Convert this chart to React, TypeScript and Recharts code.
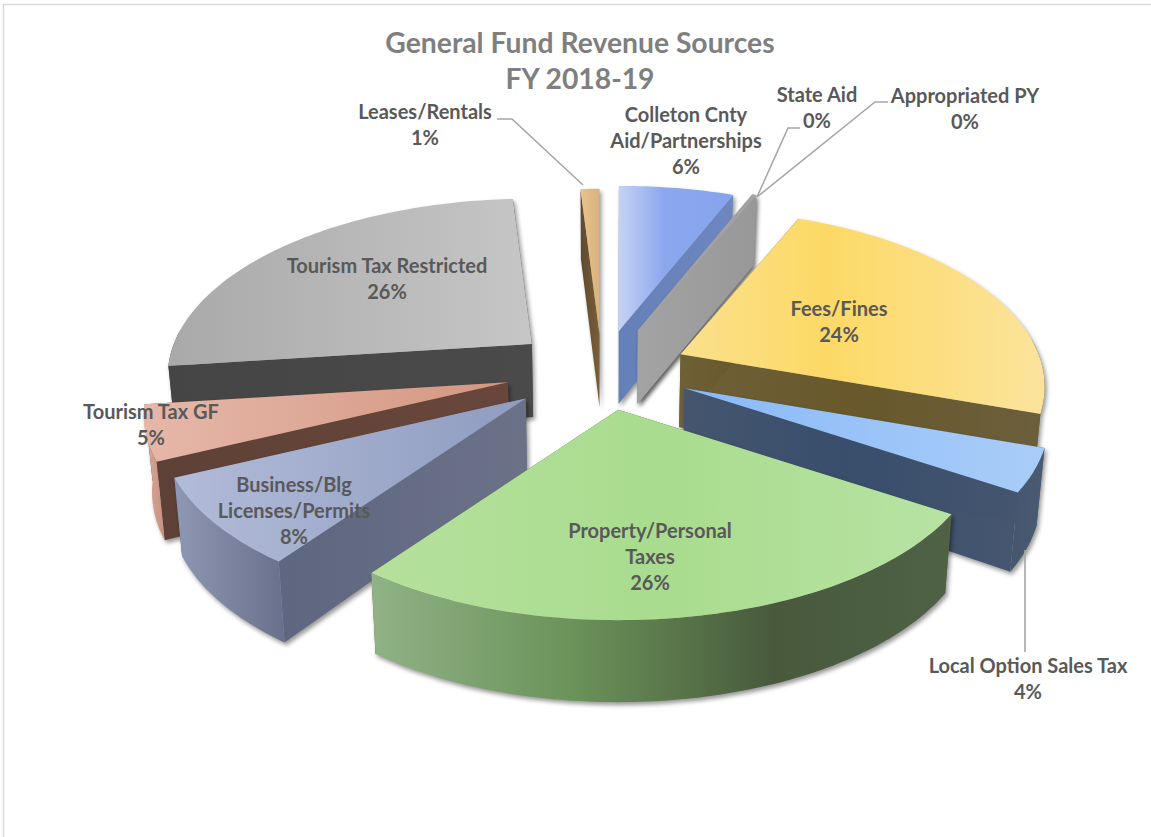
import { Pie, PieChart } from 'recharts'

// slices clockwise from 12 o'clock
const names = [
  'Colleton Cnty Aid/Partnerships',
  'State Aid',
  'Appropriated PY',
  'Fees/Fines',
  'Local Option Sales Tax',
  'Property/Personal Taxes',
  'Business/Blg Licenses/Permits',
  'Tourism Tax GF',
  'Tourism Tax Restricted',
  'Leases/Rentals',
]
const shares = [6.1, 0.1, 0.1, 24, 3.9, 25.8, 8, 5, 26, 1]
const data = names.map((name, i) => ({ name, value: shares[i] }))

// back to front, 3d slices have to be painted in this order
const paintOrder = [
  'Tourism Tax Restricted',
  'Leases/Rentals',
  'Colleton Cnty Aid/Partnerships',
  'State Aid',
  'Appropriated PY',
  'Fees/Fines',
  'Local Option Sales Tax',
  'Tourism Tax GF',
  'Business/Blg Licenses/Permits',
  'Property/Personal Taxes',
]

const CX = 602
const CY = 370
const RADIUS = 358
const TILT = 0.48
const PERSPECTIVE = 0.183
const EXPLODE_TILT = 0.45
const TAPER = 0.982

const explode: Record<string, number> = {
  'Colleton Cnty Aid/Partnerships': 88,
  'State Aid': 95,
  'Appropriated PY': 95,
  'Fees/Fines': 86,
  'Local Option Sales Tax': 92,
  'Property/Personal Taxes': 90,
  'Business/Blg Licenses/Permits': 99,
  'Tourism Tax GF': 98,
  'Tourism Tax Restricted': 91,
  'Leases/Rentals': 80,
}

type Stops = [number, string][]
interface Look { top: Stops; side: Stops; arc: Stops }

const looks: Record<string, Look> = {
  'Colleton Cnty Aid/Partnerships': {
    top: [[0, '#c5d2f4'], [0.4, '#8ba7ee'], [1, '#86a3ee']],
    side: [[0, '#6580b8'], [1, '#6f86bf']],
    arc: [[0, '#6f86bf'], [1, '#6f86bf']],
  },
  'State Aid': {
    top: [[0, '#a5a5a5'], [1, '#a5a5a5']],
    side: [[0, '#a3a3a3'], [1, '#989898']],
    arc: [[0, '#a0a0a0'], [1, '#a0a0a0']],
  },
  'Appropriated PY': {
    top: [[0, '#a5a5a5'], [1, '#a5a5a5']],
    side: [[0, '#a3a3a3'], [1, '#989898']],
    arc: [[0, '#a0a0a0'], [1, '#a0a0a0']],
  },
  'Fees/Fines': {
    top: [[0, '#fbe08e'], [0.4, '#fcd966'], [1, '#fbe39c']],
    side: [[0, '#6e6038'], [0.5, '#68582b'], [1, '#6b5f3c']],
    arc: [[0, '#6b5f3c'], [1, '#6b5f3c']],
  },
  'Local Option Sales Tax': {
    top: [[0, '#8ab9f8'], [1, '#a9cdf8']],
    side: [[0, '#45566e'], [0.45, '#384e6c'], [1, '#46566f']],
    arc: [[0, '#46566f'], [1, '#4a5a72']],
  },
  'Property/Personal Taxes': {
    top: [[0, '#b5e09d'], [0.5, '#a9dc8e'], [1, '#b7e3a3']],
    side: [[0, '#4b5d41'], [1, '#4b5d41']],
    arc: [[0, '#90b286'], [0.35, '#6a9259'], [0.7, '#48593c'], [1, '#4f6245']],
  },
  'Business/Blg Licenses/Permits': {
    top: [[0, '#b2bbd8'], [1, '#8f9cc0']],
    side: [[0, '#5e6680'], [1, '#6b7288']],
    arc: [[0, '#8f98b3'], [1, '#69708c']],
  },
  'Tourism Tax GF': {
    top: [[0, '#e6b7a9'], [1, '#d39781']],
    side: [[0, '#5e4136'], [1, '#69463b']],
    arc: [[0, '#d9ab9d'], [1, '#c8907f']],
  },
  'Tourism Tax Restricted': {
    top: [[0, '#a9a9a9'], [1, '#c6c6c6']],
    side: [[0, '#454545'], [1, '#4a4a4a']],
    arc: [[0, '#454545'], [1, '#454545']],
  },
  'Leases/Rentals': {
    top: [[0, '#e8c48f'], [1, '#d9b27c']],
    side: [[0, '#5e4a30'], [1, '#7a5f38']],
    arc: [[0, '#7a5f38'], [1, '#7a5f38']],
  },
}

const labelLines: Record<string, string[]> = {
  'Colleton Cnty Aid/Partnerships': ['Colleton Cnty', 'Aid/Partnerships'],
  'Property/Personal Taxes': ['Property/Personal', 'Taxes'],
  'Business/Blg Licenses/Permits': ['Business/Blg', 'Licenses/Permits'],
}

const labelSpots: Record<string, [number, number]> = {
  'Colleton Cnty Aid/Partnerships': [686, 122],
  'State Aid': [817, 102],
  'Appropriated PY': [965, 103],
  'Fees/Fines': [839, 316],
  'Local Option Sales Tax': [1028, 673],
  'Property/Personal Taxes': [650, 538],
  'Business/Blg Licenses/Permits': [294, 492],
  'Tourism Tax GF': [151, 419],
  'Tourism Tax Restricted': [387, 273],
  'Leases/Rentals': [425, 119],
}

const leaders: Record<string, string> = {
  'State Aid': '800,128 788,128 757,197',
  'Appropriated PY': '888,102 875,102 757,197',
  'Local Option Sales Tax': '1025,550 1025,652',
  'Leases/Rentals': '497,119 512,119 583,185',
}

const FONT = 'Lato, Carlito, sans-serif'

const rad = (d: number) => (d * Math.PI) / 180

// pie plane angle (clockwise from 12 o'clock) to screen offset from the slice apex
function project(theta: number, r: number) {
  const u = Math.sin(rad(theta))
  const v = -Math.cos(rad(theta))
  const s = 1 / (1 - PERSPECTIVE * v)
  return { x: u * r * s, y: v * r * TILT * s, v }
}

const rimDepth = (v: number) => 76 + 6 * v

function drop(x: number, y: number, depth: number): [number, number] {
  return [CX + (x - CX) * TAPER, y + depth]
}

const pathOf = (pts: [number, number][]) =>
  'M' + pts.map(p => `${p[0].toFixed(1)},${p[1].toFixed(1)}`).join('L') + 'Z'

function Gradient({ id, stops }: { id: string; stops: Stops }) {
  return (
    <linearGradient id={id} x1="0" y1="0" x2="1" y2="0">
      {stops.map(([o, c]) => (
        <stop key={o} offset={o} stopColor={c} />
      ))}
    </linearGradient>
  )
}

function Slice3D(props: any, only: string) {
  const { name, startAngle, endAngle, midAngle, outerRadius, cx, cy } = props
  if (name !== only) return <g />
  const a = 90 - startAngle
  const b = 90 - endAngle
  const mid = 90 - midAngle
  const e = explode[name]
  const ax = cx + e * Math.sin(rad(mid))
  const ay = cy - e * Math.cos(rad(mid)) * EXPLODE_TILT
  const apexDepth = 73
  const at = (t: number) => {
    const p = project(t, outerRadius)
    return { x: ax + p.x, y: ay + p.y, v: p.v }
  }
  const wall = (t: number): [number, number][] => {
    const p = at(t)
    return [[ax, ay], [p.x, p.y], drop(p.x, p.y, rimDepth(p.v)), drop(ax, ay, apexDepth)]
  }
  const rim: [number, number][] = []
  const steps = Math.max(2, Math.ceil(b - a))
  for (let i = 0; i <= steps; i++) {
    const p = at(a + ((b - a) * i) / steps)
    rim.push([p.x, p.y])
  }
  // only the part of the outer wall that faces us
  const f0 = Math.max(a, 85)
  const f1 = Math.min(b, 275)
  const front: [number, number][] = []
  const frontLow: [number, number][] = []
  if (f1 > f0) {
    const n = Math.ceil(f1 - f0)
    for (let i = 0; i <= n; i++) {
      const p = at(f0 + ((f1 - f0) * i) / n)
      front.push([p.x, p.y])
      frontLow.unshift(drop(p.x, p.y, rimDepth(p.v)))
    }
  }
  const id = `s${names.indexOf(name)}`
  const look = looks[name]
  return (
    <g style={{ filter: 'drop-shadow(2px 3px 2px rgba(0,0,0,0.4))' }}>
      <defs>
        <Gradient id={`${id}t`} stops={look.top} />
        <Gradient id={`${id}s`} stops={look.side} />
        <Gradient id={`${id}a`} stops={look.arc} />
      </defs>
      <path d={pathOf(wall(b))} fill={`url(#${id}s)`} />
      <path d={pathOf(wall(a))} fill={`url(#${id}s)`} />
      {front.length > 0 && <path d={pathOf([...front, ...frontLow])} fill={`url(#${id}a)`} />}
      <path d={pathOf([[ax, ay], ...rim])} fill={`url(#${id}t)`} />
    </g>
  )
}

function renderLabel(props: any) {
  const { name, percent } = props
  const [x, y] = labelSpots[name]
  const lines = [...(labelLines[name] ?? [name]), `${Math.round(percent * 100)}%`]
  return (
    <g key={name}>
      {leaders[name] && <polyline points={leaders[name]} fill="none" stroke="#a6a6a6" strokeWidth={1.6} />}
      {lines.map((line, i) => (
        <text
          key={i}
          x={x}
          y={y + i * 26}
          textAnchor="middle"
          fontFamily={FONT}
          fontWeight={700}
          fontSize={20}
          fill="#595959"
        >
          {line}
        </text>
      ))}
    </g>
  )
}

export default function App() {
  return (
    <div style={{ position: 'absolute', left: 0, top: 0, width: 1151, height: 837, background: '#fff' }}>
      <PieChart width={1151} height={837} margin={{ top: 0, right: 0, bottom: 0, left: 0 }}>
        <rect x={3.5} y={4.5} width={1160} height={840} fill="none" stroke="#d9d9d9" strokeWidth={1.5} />
        <text x={580} y={53} textAnchor="middle" fontFamily={FONT} fontWeight={700} fontSize={28.3} fill="#7f7f7f">
          General Fund Revenue Sources
        </text>
        <text x={580} y={89} textAnchor="middle" fontFamily={FONT} fontWeight={700} fontSize={28.3} fill="#7f7f7f">
          FY 2018-19
        </text>
        {paintOrder.map((layer, i) => (
          <Pie
            key={layer}
            data={data}
            dataKey="value"
            nameKey="name"
            cx={CX}
            cy={CY}
            outerRadius={RADIUS}
            startAngle={90}
            endAngle={-270}
            stroke="none"
            isAnimationActive={false}
            shape={(p: any) => Slice3D(p, layer)}
            label={i === paintOrder.length - 1 ? renderLabel : false}
            labelLine={false}
          />
        ))}
      </PieChart>
    </div>
  )
}
